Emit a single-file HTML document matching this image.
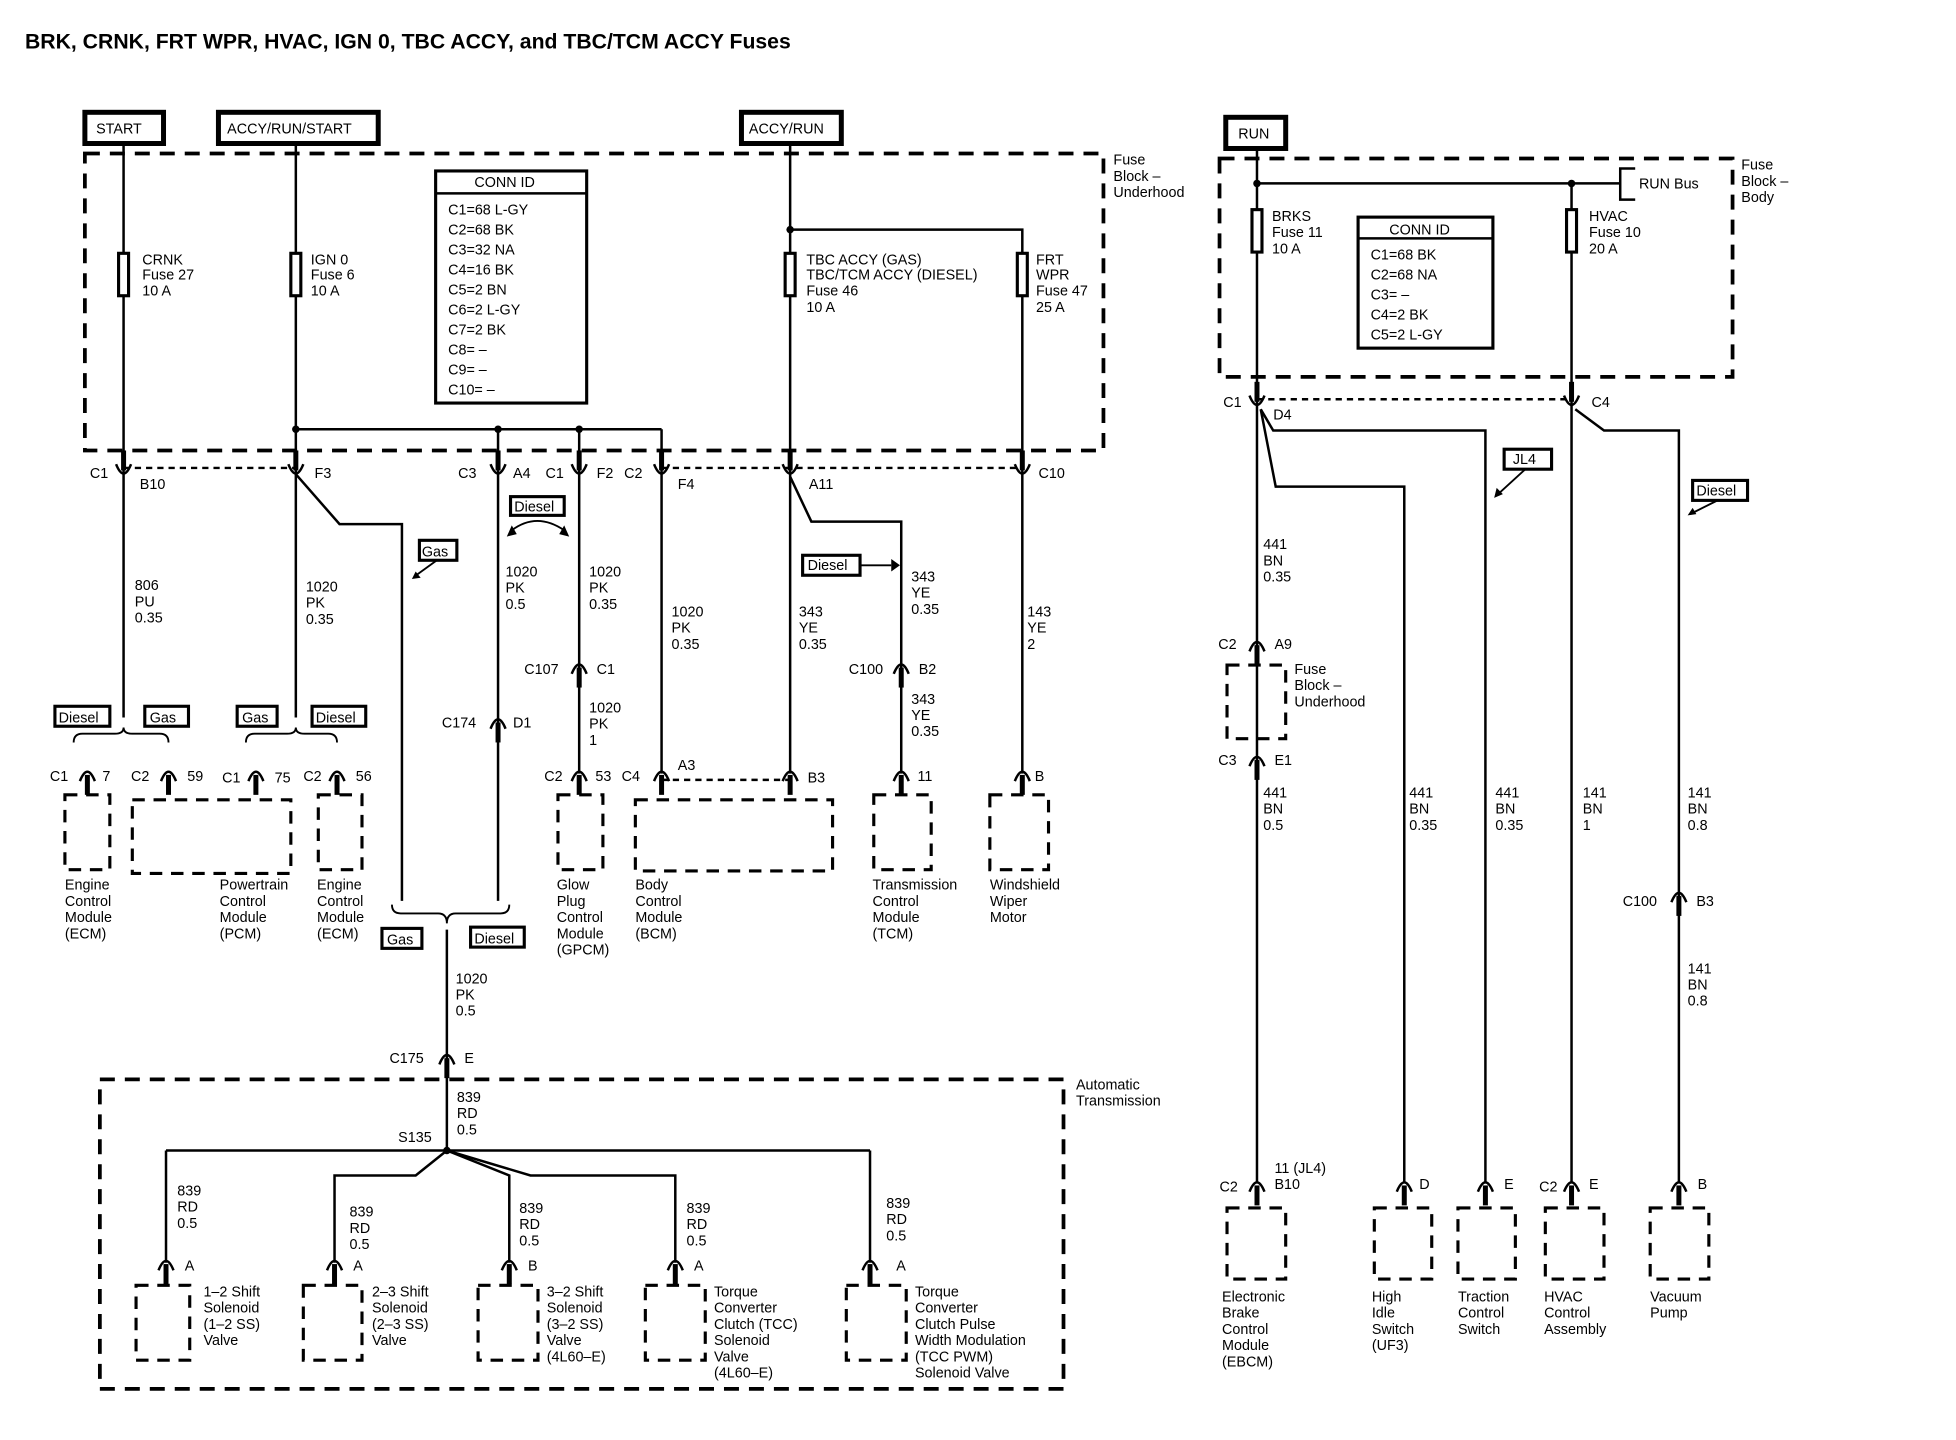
<!DOCTYPE html>
<html><head><meta charset="utf-8"><style>
html,body{margin:0;padding:0;background:#fff}
svg{display:block}
text{font-family:"Liberation Sans",sans-serif;font-size:11.5px;fill:#000}
</style></head><body>
<svg width="1956" height="1440" viewBox="0 0 1567 1154" preserveAspectRatio="none" xmlns="http://www.w3.org/2000/svg">
<defs>
<g id="u"><path d="M-6,-3 Q0,12 6,-3" fill="none" stroke="#000" stroke-width="2"/><line x1="0" y1="-14" x2="0" y2="2" stroke="#000" stroke-width="4"/></g>
<g id="d"><path d="M-6,3 Q0,-12 6,3" fill="none" stroke="#000" stroke-width="2"/><line x1="0" y1="-2" x2="0" y2="14" stroke="#000" stroke-width="4"/></g>
</defs>
<rect width="1567" height="1154" fill="#fff"/>
<text x="20" y="39" style="font-size:17px;font-weight:bold">BRK, CRNK, FRT WPR, HVAC, IGN 0, TBC ACCY, and TBC/TCM ACCY Fuses</text>

<g fill="none" stroke="#000">
<rect x="68" y="90" width="63" height="25" stroke-width="4"/>
<rect x="175" y="90" width="128" height="25" stroke-width="4"/>
<rect x="594" y="90" width="80" height="25" stroke-width="4"/>
<rect x="982" y="94" width="48" height="25" stroke-width="4"/>
<rect x="68" y="123" width="816" height="238" stroke-width="3" stroke-dasharray="12,8"/>
<rect x="977" y="127" width="411" height="175" stroke-width="3" stroke-dasharray="12,8"/>
<rect x="80" y="865" width="772" height="248" stroke-width="3" stroke-dasharray="12,8"/>
<rect x="349" y="137" width="121" height="186" stroke-width="2.5"/>
<line x1="349" y1="155" x2="470" y2="155" stroke-width="2"/>
<rect x="1088" y="174" width="108" height="105" stroke-width="2.5"/>
<line x1="1088" y1="191" x2="1196" y2="191" stroke-width="2"/>
<g stroke-width="2">
<line x1="99" y1="117" x2="99" y2="575"/>
<line x1="237" y1="117" x2="237" y2="575"/>
<line x1="633" y1="117" x2="633" y2="620"/>
<polyline points="633,184 819,184 819,620"/>
<line x1="237" y1="344" x2="530" y2="344"/>
<line x1="399" y1="344" x2="399" y2="722"/>
<line x1="464" y1="344" x2="464" y2="620"/>
<line x1="530" y1="344" x2="530" y2="620"/>
<polyline points="237,380 272,420 322,420 322,722"/>
<polyline points="633,382 650,418 722,418 722,620"/>
<line x1="358" y1="745" x2="358" y2="922"/>
<line x1="133" y1="922" x2="697" y2="922"/>
<line x1="133" y1="922" x2="133" y2="1012"/>
<line x1="697" y1="922" x2="697" y2="1012"/>
<polyline points="358,922 333,942 268,942 268,1012"/>
<polyline points="358,922 408,942 408,1012"/>
<polyline points="358,922 425,942 541,942 541,1012"/>
<line x1="1007" y1="120" x2="1007" y2="948"/>
<line x1="1007" y1="147" x2="1298" y2="147"/>
<polyline points="1310,135 1298,135 1298,160 1310,160"/>
<line x1="1259" y1="147" x2="1259" y2="948"/>
<polyline points="1010,328 1020,345 1190,345 1190,948"/>
<polyline points="1010,328 1022,390 1125,390 1125,948"/>
<polyline points="1262,328 1285,345 1345,345 1345,948"/>
</g>
<g stroke-width="2" stroke-dasharray="5,4">
<line x1="99" y1="375" x2="237" y2="375"/>
<line x1="530" y1="375" x2="819" y2="375"/>
<line x1="530" y1="625" x2="633" y2="625"/>
<line x1="1007" y1="320" x2="1259" y2="320"/>
</g>
<g stroke-width="2.5" fill="#fff">
<rect x="95" y="203" width="8" height="34"/><rect x="233" y="203" width="8" height="34"/>
<rect x="629" y="203" width="8" height="34"/><rect x="815" y="203" width="8" height="34"/>
<rect x="1003" y="168" width="8" height="34"/><rect x="1255" y="168" width="8" height="34"/>
</g>
<g stroke-width="2.5" stroke-dasharray="10,7">
<rect x="52" y="637" width="36" height="60"/><rect x="106" y="641" width="127" height="59"/>
<rect x="255" y="637" width="35" height="60"/><rect x="447" y="637" width="36" height="60"/>
<rect x="509" y="641" width="158" height="57"/><rect x="700" y="637" width="46" height="60"/>
<rect x="793" y="637" width="47" height="60"/>
<rect x="109" y="1030" width="43" height="60"/><rect x="243" y="1030" width="47" height="60"/>
<rect x="383" y="1030" width="48" height="60"/><rect x="517" y="1030" width="48" height="60"/>
<rect x="678" y="1030" width="48" height="60"/>
<rect x="983" y="533" width="47" height="59"/>
<rect x="983" y="968" width="47" height="57"/><rect x="1101" y="968" width="46" height="57"/>
<rect x="1168" y="968" width="46" height="57"/><rect x="1238" y="968" width="47" height="57"/>
<rect x="1322" y="968" width="47" height="57"/>
</g>
<g stroke-width="2.5">
<rect x="44" y="566" width="44" height="16"/><rect x="116" y="566" width="35" height="16"/>
<rect x="190" y="566" width="32" height="16"/><rect x="250" y="566" width="43" height="16"/>
<rect x="409" y="398" width="43" height="15"/><rect x="336" y="433" width="30" height="16"/>
<rect x="643" y="445" width="46" height="16"/>
<rect x="306" y="744" width="32" height="16"/><rect x="377" y="743" width="43" height="16"/>
<rect x="1205" y="360" width="38" height="16"/><rect x="1356" y="385" width="44" height="16"/>
</g>
<g stroke-width="1.5">
<path d="M59,595 Q59,588 66,588 L92,588 Q99,588 99,583 Q99,588 106,588 L128,588 Q135,588 135,595"/>
<path d="M197,595 Q197,588 204,588 L230,588 Q237,588 237,583 Q237,588 244,588 L263,588 Q270,588 270,595"/>
<path d="M314,725 Q314,732 321,732 L351,732 Q358,732 358,740 Q358,732 365,732 L401,732 Q408,732 408,725"/>
<line x1="350" y1="449" x2="332" y2="462"/><line x1="1222" y1="376" x2="1199" y2="397"/>
<line x1="1376" y1="401" x2="1354" y2="412"/><line x1="689" y1="453" x2="714" y2="453"/>
<path d="M410,425 Q430,410 452,425"/>
</g>
</g>
<g fill="#000">
<circle cx="237" cy="344" r="3"/><circle cx="399" cy="344" r="3"/><circle cx="464" cy="344" r="3"/>
<circle cx="633" cy="184" r="3"/><circle cx="1007" cy="147" r="3"/><circle cx="1259" cy="147" r="3"/>
<circle cx="358" cy="922" r="3"/>
<path d="M714,448 L721,453 L714,458Z"/><path d="M330,464 L337,463 L333,458Z"/>
<path d="M1197,399 L1199,391 L1204,396Z"/><path d="M1352,413 L1356,407 L1359,412Z"/>
<path d="M406,430 L410,421 L414,428Z"/><path d="M456,430 L452,421 L448,428Z"/>
</g>
<g>
<use href="#u" x="99" y="375"/><use href="#u" x="237" y="375"/><use href="#u" x="399" y="375"/>
<use href="#u" x="464" y="375"/><use href="#u" x="530" y="375"/><use href="#u" x="633" y="375"/>
<use href="#u" x="819" y="375"/><use href="#u" x="1007" y="320"/><use href="#u" x="1259" y="320"/>
<use href="#d" x="399" y="581"/><use href="#d" x="464" y="537"/><use href="#d" x="722" y="537"/>
<use href="#d" x="358" y="850"/><use href="#d" x="1007" y="519"/><use href="#d" x="1007" y="611"/>
<use href="#d" x="1345" y="720"/>
<use href="#d" x="70" y="623"/><use href="#d" x="135" y="623"/><use href="#d" x="205" y="623"/>
<use href="#d" x="270" y="623"/><use href="#d" x="464" y="623"/><use href="#d" x="530" y="623"/>
<use href="#d" x="633" y="623"/><use href="#d" x="722" y="623"/><use href="#d" x="819" y="623"/>
<use href="#d" x="133" y="1015"/><use href="#d" x="268" y="1015"/><use href="#d" x="408" y="1015"/>
<use href="#d" x="541" y="1015"/><use href="#d" x="697" y="1015"/>
<use href="#d" x="1007" y="952"/><use href="#d" x="1125" y="952"/><use href="#d" x="1190" y="952"/>
<use href="#d" x="1259" y="952"/><use href="#d" x="1345" y="952"/>
</g>

<text x="77" y="107">START</text><text x="182" y="107">ACCY/RUN/START</text>
<text x="600" y="107">ACCY/RUN</text><text x="992" y="111">RUN</text>
<text x="892" y="132">Fuse</text><text x="892" y="145">Block –</text><text x="892" y="158">Underhood</text>
<text x="1395" y="136">Fuse</text><text x="1395" y="149">Block –</text><text x="1395" y="162">Body</text>
<text x="1313" y="151">RUN Bus</text>
<text x="380" y="150">CONN ID</text>
<text x="359" y="172">C1=68 L-GY</text><text x="359" y="188">C2=68 BK</text><text x="359" y="204">C3=32 NA</text>
<text x="359" y="220">C4=16 BK</text><text x="359" y="236">C5=2 BN</text><text x="359" y="252">C6=2 L-GY</text>
<text x="359" y="268">C7=2 BK</text><text x="359" y="284">C8= –</text><text x="359" y="300">C9= –</text><text x="359" y="316">C10= –</text>
<text x="1113" y="188">CONN ID</text>
<text x="1098" y="208">C1=68 BK</text><text x="1098" y="224">C2=68 NA</text><text x="1098" y="240">C3= –</text>
<text x="1098" y="256">C4=2 BK</text><text x="1098" y="272">C5=2 L-GY</text>
<text x="114" y="212">CRNK</text><text x="114" y="224">Fuse 27</text><text x="114" y="237">10 A</text>
<text x="249" y="212">IGN 0</text><text x="249" y="224">Fuse 6</text><text x="249" y="237">10 A</text>
<text x="646" y="212">TBC ACCY (GAS)</text><text x="646" y="224">TBC/TCM ACCY (DIESEL)</text><text x="646" y="237">Fuse 46</text><text x="646" y="250">10 A</text>
<text x="830" y="212">FRT</text><text x="830" y="224">WPR</text><text x="830" y="237">Fuse 47</text><text x="830" y="250">25 A</text>
<text x="1019" y="177">BRKS</text><text x="1019" y="190">Fuse 11</text><text x="1019" y="203">10 A</text>
<text x="1273" y="177">HVAC</text><text x="1273" y="190">Fuse 10</text><text x="1273" y="203">20 A</text>
<text x="72" y="383">C1</text><text x="112" y="392">B10</text><text x="252" y="383">F3</text>
<text x="367" y="383">C3</text><text x="411" y="383">A4</text><text x="437" y="383">C1</text><text x="478" y="383">F2</text>
<text x="500" y="383">C2</text><text x="543" y="392">F4</text><text x="648" y="392">A11</text><text x="832" y="383">C10</text>
<text x="980" y="326">C1</text><text x="1020" y="336">D4</text><text x="1275" y="326">C4</text>
<text x="338" y="446">Gas</text><text x="412" y="410">Diesel</text><text x="647" y="457">Diesel</text>
<text x="1212" y="372">JL4</text><text x="1359" y="397">Diesel</text>
<text x="47" y="579">Diesel</text><text x="120" y="579">Gas</text><text x="194" y="579">Gas</text><text x="253" y="579">Diesel</text>
<text x="310" y="757">Gas</text><text x="380" y="756">Diesel</text>
<text x="108" y="473">806</text><text x="108" y="486">PU</text><text x="108" y="499">0.35</text>
<text x="245" y="474">1020</text><text x="245" y="487">PK</text><text x="245" y="500">0.35</text>
<text x="405" y="462">1020</text><text x="405" y="475">PK</text><text x="405" y="488">0.5</text>
<text x="472" y="462">1020</text><text x="472" y="475">PK</text><text x="472" y="488">0.35</text>
<text x="538" y="494">1020</text><text x="538" y="507">PK</text><text x="538" y="520">0.35</text>
<text x="640" y="494">343</text><text x="640" y="507">YE</text><text x="640" y="520">0.35</text>
<text x="730" y="466">343</text><text x="730" y="479">YE</text><text x="730" y="492">0.35</text>
<text x="823" y="494">143</text><text x="823" y="507">YE</text><text x="823" y="520">2</text>
<text x="420" y="540">C107</text><text x="478" y="540">C1</text>
<text x="472" y="571">1020</text><text x="472" y="584">PK</text><text x="472" y="597">1</text>
<text x="354" y="583">C174</text><text x="411" y="583">D1</text>
<text x="680" y="540">C100</text><text x="736" y="540">B2</text>
<text x="730" y="564">343</text><text x="730" y="577">YE</text><text x="730" y="590">0.35</text>
<text x="40" y="626">C1</text><text x="82" y="626">7</text><text x="105" y="626">C2</text><text x="150" y="626">59</text>
<text x="178" y="627">C1</text><text x="220" y="627">75</text><text x="243" y="626">C2</text><text x="285" y="626">56</text>
<text x="436" y="626">C2</text><text x="477" y="626">53</text><text x="498" y="626">C4</text><text x="543" y="617">A3</text>
<text x="647" y="627">B3</text><text x="735" y="626">11</text><text x="829" y="626">B</text>
<text x="52" y="713">Engine</text><text x="52" y="726">Control</text><text x="52" y="739">Module</text><text x="52" y="752">(ECM)</text>
<text x="176" y="713">Powertrain</text><text x="176" y="726">Control</text><text x="176" y="739">Module</text><text x="176" y="752">(PCM)</text>
<text x="254" y="713">Engine</text><text x="254" y="726">Control</text><text x="254" y="739">Module</text><text x="254" y="752">(ECM)</text>
<text x="446" y="713">Glow</text><text x="446" y="726">Plug</text><text x="446" y="739">Control</text><text x="446" y="752">Module</text><text x="446" y="765">(GPCM)</text>
<text x="509" y="713">Body</text><text x="509" y="726">Control</text><text x="509" y="739">Module</text><text x="509" y="752">(BCM)</text>
<text x="699" y="713">Transmission</text><text x="699" y="726">Control</text><text x="699" y="739">Module</text><text x="699" y="752">(TCM)</text>
<text x="793" y="713">Windshield</text><text x="793" y="726">Wiper</text><text x="793" y="739">Motor</text>
<text x="365" y="788">1020</text><text x="365" y="801">PK</text><text x="365" y="814">0.5</text>
<text x="312" y="852">C175</text><text x="372" y="852">E</text>
<text x="862" y="873">Automatic</text><text x="862" y="886">Transmission</text>
<text x="366" y="883">839</text><text x="366" y="896">RD</text><text x="366" y="909">0.5</text>
<text x="319" y="915">S135</text>
<text x="142" y="958">839</text><text x="142" y="971">RD</text><text x="142" y="984">0.5</text>
<text x="280" y="975">839</text><text x="280" y="988">RD</text><text x="280" y="1001">0.5</text>
<text x="416" y="972">839</text><text x="416" y="985">RD</text><text x="416" y="998">0.5</text>
<text x="550" y="972">839</text><text x="550" y="985">RD</text><text x="550" y="998">0.5</text>
<text x="710" y="968">839</text><text x="710" y="981">RD</text><text x="710" y="994">0.5</text>
<text x="148" y="1018">A</text><text x="283" y="1018">A</text><text x="423" y="1018">B</text><text x="556" y="1018">A</text><text x="718" y="1018">A</text>
<text x="163" y="1039">1–2 Shift</text><text x="163" y="1052">Solenoid</text><text x="163" y="1065">(1–2 SS)</text><text x="163" y="1078">Valve</text>
<text x="298" y="1039">2–3 Shift</text><text x="298" y="1052">Solenoid</text><text x="298" y="1065">(2–3 SS)</text><text x="298" y="1078">Valve</text>
<text x="438" y="1039">3–2 Shift</text><text x="438" y="1052">Solenoid</text><text x="438" y="1065">(3–2 SS)</text><text x="438" y="1078">Valve</text><text x="438" y="1091">(4L60–E)</text>
<text x="572" y="1039">Torque</text><text x="572" y="1052">Converter</text><text x="572" y="1065">Clutch (TCC)</text><text x="572" y="1078">Solenoid</text><text x="572" y="1091">Valve</text><text x="572" y="1104">(4L60–E)</text>
<text x="733" y="1039">Torque</text><text x="733" y="1052">Converter</text><text x="733" y="1065">Clutch Pulse</text><text x="733" y="1078">Width Modulation</text><text x="733" y="1091">(TCC PWM)</text><text x="733" y="1104">Solenoid Valve</text>
<text x="1012" y="440">441</text><text x="1012" y="453">BN</text><text x="1012" y="466">0.35</text>
<text x="976" y="520">C2</text><text x="1021" y="520">A9</text>
<text x="1037" y="540">Fuse</text><text x="1037" y="553">Block –</text><text x="1037" y="566">Underhood</text>
<text x="976" y="613">C3</text><text x="1021" y="613">E1</text>
<text x="1012" y="639">441</text><text x="1012" y="652">BN</text><text x="1012" y="665">0.5</text>
<text x="1129" y="639">441</text><text x="1129" y="652">BN</text><text x="1129" y="665">0.35</text>
<text x="1198" y="639">441</text><text x="1198" y="652">BN</text><text x="1198" y="665">0.35</text>
<text x="1268" y="639">141</text><text x="1268" y="652">BN</text><text x="1268" y="665">1</text>
<text x="1352" y="639">141</text><text x="1352" y="652">BN</text><text x="1352" y="665">0.8</text>
<text x="1300" y="726">C100</text><text x="1359" y="726">B3</text>
<text x="1352" y="780">141</text><text x="1352" y="793">BN</text><text x="1352" y="806">0.8</text>
<text x="1021" y="940">11 (JL4)</text><text x="1021" y="953">B10</text><text x="977" y="955">C2</text>
<text x="1137" y="953">D</text><text x="1205" y="953">E</text><text x="1233" y="955">C2</text><text x="1273" y="953">E</text><text x="1360" y="953">B</text>
<text x="979" y="1043">Electronic</text><text x="979" y="1056">Brake</text><text x="979" y="1069">Control</text><text x="979" y="1082">Module</text><text x="979" y="1095">(EBCM)</text>
<text x="1099" y="1043">High</text><text x="1099" y="1056">Idle</text><text x="1099" y="1069">Switch</text><text x="1099" y="1082">(UF3)</text>
<text x="1168" y="1043">Traction</text><text x="1168" y="1056">Control</text><text x="1168" y="1069">Switch</text>
<text x="1237" y="1043">HVAC</text><text x="1237" y="1056">Control</text><text x="1237" y="1069">Assembly</text>
<text x="1322" y="1043">Vacuum</text><text x="1322" y="1056">Pump</text>
</svg>
</body></html>
